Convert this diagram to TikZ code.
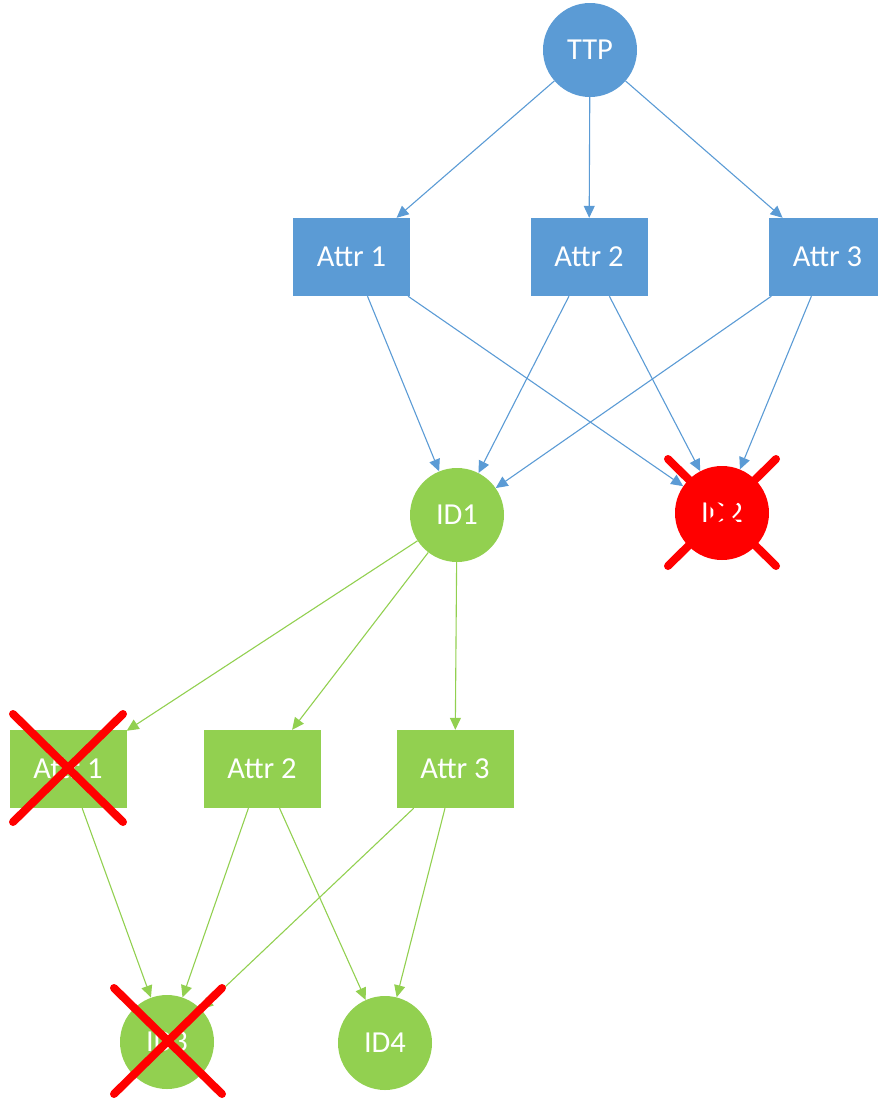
\documentclass[tikz,border=0pt]{standalone}
\usepackage{fontspec}
\setmainfont{Carlito}
\usetikzlibrary{arrows.meta}
\definecolor{vblue}{HTML}{5B9BD5}
\definecolor{vgreen}{HTML}{92D050}
\definecolor{vred}{HTML}{FF0000}
\tikzset{
  circ/.style={circle, minimum size=94pt, inner sep=0pt, text=white, font=\fontsize{30.5}{34}\selectfont},
  box/.style={rectangle, minimum width=117pt, minimum height=78pt, inner sep=0pt, text=white, font=\fontsize{30.5}{34}\selectfont},
  bcirc/.style={circ, fill=vblue},
  gcirc/.style={circ, fill=vgreen},
  rcirc/.style={circ, fill=vred},
  bbox/.style={box, fill=vblue},
  gbox/.style={box, fill=vgreen},
  barrow/.style={draw=vblue, line width=1.1pt, -{Triangle[length=12pt,width=11pt]}},
  garrow/.style={draw=vgreen, line width=1.1pt, -{Triangle[length=12pt,width=11pt]}},
  cross/.style={draw=vred, line width=8pt, line cap=round},
}
\begin{document}
\begin{tikzpicture}[x=1pt, y=-1pt]
\useasboundingbox (0,0) rectangle (878,1101);
\clip (0,0) rectangle (878,1101);
% nodes
\node[bcirc] (ttp) at (590,50) {TTP};
\node[bbox] (a1) at (351.5,257) {Attr 1};
\node[bbox] (a2) at (589,257) {Attr 2};
\node[bbox] (a3) at (827.5,257) {Attr 3};
\node[gcirc] (id1) at (457,515) {ID1};
\node[rcirc] (id2) at (722,513) {ID2};
\node[gbox] (g1) at (68,769) {Attr 1};
\node[gbox] (g2) at (262,769) {Attr 2};
\node[gbox] (g3) at (455,769) {Attr 3};
\node[gcirc] (id3) at (167,1042) {ID3};
\node[gcirc] (id4) at (385,1043) {ID4};
% blue connectors
\draw[barrow] (ttp) -- (a1);
\draw[barrow] (ttp) -- (a2);
\draw[barrow] (ttp) -- (a3);
\draw[barrow] (a1) -- (id1);
\draw[barrow] (a1) -- (id2);
\draw[barrow] (a2) -- (id1);
\draw[barrow] (a2) -- (id2);
\draw[barrow] (a3) -- (id1);
\draw[barrow] (a3) -- (id2);
% green connectors
\draw[garrow] (id1) -- (g1);
\draw[garrow] (id1) -- (g2);
\draw[garrow] (id1) -- (g3);
\draw[garrow] (g1) -- (id3);
\draw[garrow] (g2) -- (id3);
\draw[garrow] (g2) -- (id4);
\draw[garrow] (g3) -- (id3);
\draw[garrow] (g3) -- (id4);
% crosses
\draw[cross] (668,459) -- (776,566);
\draw[cross] (776,459) -- (668,566);
\draw[cross] (13,714) -- (123,822);
\draw[cross] (123,714) -- (13,822);
\draw[cross] (114,988) -- (222,1094);
\draw[cross] (222,988) -- (114,1094);
\end{tikzpicture}
\end{document}
